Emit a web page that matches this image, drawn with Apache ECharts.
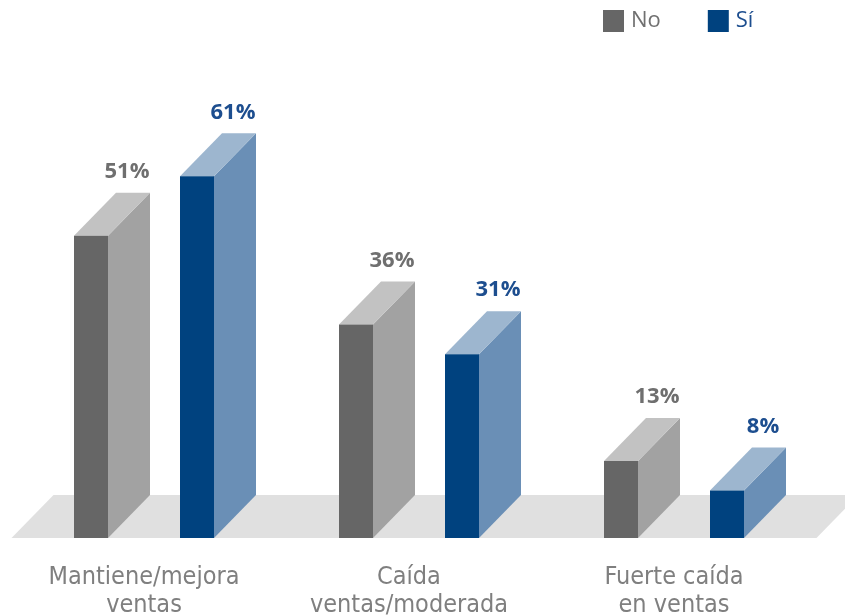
<!DOCTYPE html>
<html>
<head>
<meta charset="utf-8">
<script src="https://cdn.jsdelivr.net/npm/echarts@6/dist/echarts.min.js"></script>
<style>
  html, body { margin: 0; padding: 0; background: #ffffff; }
  #chart { width: 845px; height: 615px; }
</style>
</head>
<body>
<div id="chart"></div>
<script>
// Sales outcome categories and the share of firms in each group
const categories = ['Mantiene/mejora\nventas', 'Caída\nventas/moderada', 'Fuerte caída\nen ventas'];
const seriesNames = ['No', 'Sí'];
const noValues = [51, 36, 13];
const siValues = [61, 31, 8];

// Box geometry for the pseudo-3D columns
const DEPTH_X = 42;
const DEPTH_Y = 43;
const BAR_W = 34;

const NO_COLORS = { front: '#666666', side: '#a2a2a2', top: '#c2c2c2', label: '#6f6f6f' };
const SI_COLORS = { front: '#00427f', side: '#6a8fb6', top: '#9db6cf', label: '#1d4e8f' };

function boxRenderer(offsetRatio, colors) {
  return function (params, api) {
    const idx = api.value(0);
    const v = api.value(1);
    const top = api.coord([idx, v]);
    const base = api.coord([idx, 0]);
    const band = api.size([1, 0])[0];
    const cx = top[0] + band * offsetRatio;
    const l = cx - BAR_W / 2;
    const r = cx + BAR_W / 2;
    const yt = top[1];
    const yb = base[1];
    return {
      type: 'group',
      children: [
        {
          type: 'polygon',
          shape: { points: [[r, yt], [r + DEPTH_X, yt - DEPTH_Y], [r + DEPTH_X, yb - DEPTH_Y], [r, yb]] },
          style: { fill: colors.side }
        },
        {
          type: 'polygon',
          shape: { points: [[l, yt], [r, yt], [r + DEPTH_X, yt - DEPTH_Y], [l + DEPTH_X, yt - DEPTH_Y]] },
          style: { fill: colors.top }
        },
        {
          type: 'rect',
          shape: { x: l, y: yt, width: BAR_W, height: yb - yt },
          style: { fill: colors.front }
        },
        {
          type: 'text',
          x: cx + 36,
          y: yt - DEPTH_Y - 10,
          style: {
            text: v + '%',
            fill: colors.label,
            font: 'bold 22px "Open Sans", sans-serif',
            align: 'center',
            verticalAlign: 'bottom'
          }
        }
      ]
    };
  };
}

function floorRenderer(params, api) {
  const cs = params.coordSys;
  const y0 = api.coord([0, 0])[1];
  const x0 = cs.x;
  const x1 = cs.x + cs.width + 10;
  return {
    type: 'polygon',
    shape: { points: [[x0, y0], [x1, y0], [x1 + DEPTH_X, y0 - DEPTH_Y], [x0 + DEPTH_X, y0 - DEPTH_Y]] },
    style: { fill: '#e0e0e0' }
  };
}

const chart = echarts.init(document.getElementById('chart'), null, { renderer: 'canvas' });
chart.setOption({
  animation: false,
  backgroundColor: '#ffffff',
  legend: {
    data: [
      { name: seriesNames[0], textStyle: { color: '#707070' } },
      { name: seriesNames[1], textStyle: { color: '#1d4e8f' } }
    ],
    left: 603,
    top: 10,
    padding: 0,
    icon: 'rect',
    itemWidth: 21,
    itemHeight: 22,
    itemGap: 47,
    textStyle: { fontSize: 22, fontFamily: '"Open Sans", sans-serif', padding: [0, 0, 0, 2] }
  },
  grid: { left: 11.5, right: 38.5, top: 123, bottom: 77, outerBoundsMode: 'none', containLabel: false },
  xAxis: {
    type: 'category',
    data: categories,
    axisLine: { show: false },
    axisTick: { show: false },
    axisLabel: {
      interval: 0,
      margin: 25,
      fontSize: 25,
      lineHeight: 28,
      color: '#7f7f7f',
      fontFamily: '"Liberation Sans Narrow", "DejaVu Sans Condensed", sans-serif'
    }
  },
  yAxis: { type: 'value', min: 0, max: 70, show: false, splitLine: { show: false } },
  series: [
    {
      name: 'floor',
      type: 'custom',
      silent: true,
      z: 1,
      data: [[0, 0]],
      encode: { x: 0, y: 1 },
      renderItem: floorRenderer
    },
    {
      name: seriesNames[0],
      type: 'custom',
      z: 2,
      itemStyle: { color: NO_COLORS.front },
      data: noValues.map((v, i) => [i, v]),
      encode: { x: 0, y: 1 },
      renderItem: boxRenderer(-0.2, NO_COLORS)
    },
    {
      name: seriesNames[1],
      type: 'custom',
      z: 2,
      itemStyle: { color: SI_COLORS.front },
      data: siValues.map((v, i) => [i, v]),
      encode: { x: 0, y: 1 },
      renderItem: boxRenderer(0.2, SI_COLORS)
    }
  ]
});
</script>
</body>
</html>
